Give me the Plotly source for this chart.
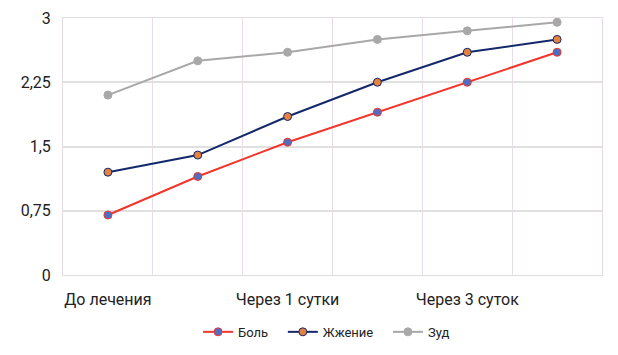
import plotly.graph_objects as go

categories = ["До лечения", "Через 12 часов", "Через 1 сутки", "Через 2 суток", "Через 3 суток", "Через 4 суток"]
shown_labels = ["До лечения", "Через 1 сутки", "Через 3 суток"]
bol = [0.70, 1.15, 1.55, 1.90, 2.25, 2.60]
zhzhenie = [1.20, 1.40, 1.85, 2.25, 2.60, 2.75]
zud = [2.10, 2.50, 2.60, 2.75, 2.85, 2.95]
y_ticks = [0, 0.75, 1.5, 2.25, 3]
y_tick_text = ["0", "0,75", "1,5", "2,25", "3"]

xs = list(range(len(categories)))
pad = "\u00a0\u00a0\u00a0"

fig = go.Figure()
fig.add_trace(go.Scatter(x=xs, y=bol, name="Боль" + pad, mode="lines+markers",
                         line=dict(color="#f2352a", width=2),
                         marker=dict(color="#4a6fc4", size=8, line=dict(color="#f2352a", width=1))))
fig.add_trace(go.Scatter(x=xs, y=zhzhenie, name="Жжение" + pad, mode="lines+markers",
                         line=dict(color="#13286a", width=2),
                         marker=dict(color="#e4823f", size=8, line=dict(color="#13286a", width=1))))
fig.add_trace(go.Scatter(x=xs, y=zud, name="Зуд", mode="lines+markers",
                         line=dict(color="#a8a8a8", width=2),
                         marker=dict(color="#a8a8a8", size=8, line=dict(color="#a8a8a8", width=1))))

tickvals = [categories.index(c) for c in shown_labels]

fig.update_layout(
    width=618, height=355,
    margin=dict(l=55, r=24, t=10, b=88, autoexpand=False),
    paper_bgcolor="white", plot_bgcolor="white",
    font=dict(family="Roboto", size=16, color="#222222"),
    showlegend=True,
    legend=dict(orientation="h", x=0.489, xanchor="center", y=-0.163, yanchor="top",
                font=dict(size=13, color="#222222"), itemwidth=30),
    xaxis=dict(range=[-0.5, len(categories) - 0.5], tickvals=tickvals, ticktext=shown_labels,
               showgrid=False, zeroline=False, showline=True, mirror=True, automargin=False,
               linecolor="#e2dbe1", linewidth=1, ticks="",
               minor=dict(showgrid=True, tick0=0.5, dtick=1, gridcolor="#e8dde6", gridwidth=1),
               tickfont=dict(size=16)),
    yaxis=dict(range=[0, 3], tickvals=y_ticks, ticktext=y_tick_text, showgrid=True,
               gridcolor="#e0e0e0", gridwidth=2, zeroline=False, showline=True, mirror=True,
               automargin=False, linecolor="#e2dbe1", linewidth=1, ticks="",
               tickfont=dict(size=16)),
)
fig.update_yaxes(ticklabelstandoff=8)
fig.update_xaxes(ticklabelstandoff=10)
fig.write_html("out.html")
